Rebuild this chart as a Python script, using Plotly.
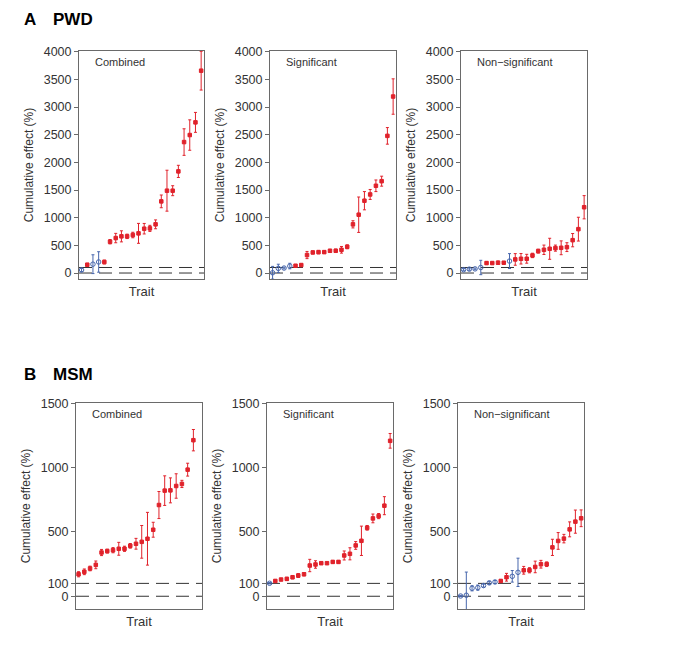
import plotly.graph_objects as go

# ---------------- data ----------------
trait_labels = "Trait"
panel_titles = ["Combined", "Significant", "Non\u2212significant"]
row_titles = [("A", "PWD"), ("B", "MSM")]
ref_lines = [0, 100]

# Panel A (PWD)
pwd_comb_vals = [55, 150, 160, 200, 199, 566, 632, 663, 663, 687, 717, 801, 807, 880, 1295, 1488, 1488, 1837, 2367, 2494, 2723, 3657]
pwd_comb_errs = [30, 25, 170, 185, 35, 40, 85, 100, 40, 50, 180, 95, 55, 80, 115, 370, 90, 110, 240, 275, 180, 350]
pwd_comb_sig = "brbbrrrrrrrrrrrrrrrrrr"

pwd_sig_vals = [5, 84, 90, 126, 132, 144, 325, 372, 378, 378, 402, 402, 420, 474, 880, 1054, 1307, 1420, 1577, 1660, 2479, 3190]
pwd_sig_errs = [115, 75, 15, 50, 20, 20, 65, 25, 30, 25, 25, 30, 60, 35, 65, 320, 165, 90, 105, 90, 150, 320]
pwd_sig_sig = "bbbbrrrrrrrrrrrrrrrrrr"

pwd_ns_vals = [60, 70, 75, 100, 180, 180, 186, 186, 216, 246, 258, 258, 318, 396, 420, 438, 450, 456, 468, 594, 793, 1189]
pwd_ns_errs = [20, 20, 15, 130, 25, 20, 30, 20, 135, 105, 95, 80, 40, 35, 85, 190, 55, 125, 80, 120, 215, 210]
pwd_ns_sig = "bbbbrrrrbrrrrrrrrrrrrr"

# Panel B (MSM)
msm_comb_vals = [171, 190, 216, 244, 340, 351, 358, 369, 369, 392, 408, 423, 447, 517, 709, 821, 823, 857, 873, 984, 1213]
msm_comb_errs = [20, 22, 18, 30, 24, 15, 20, 50, 20, 18, 42, 127, 205, 58, 105, 115, 97, 95, 28, 50, 83]
msm_comb_sig = "rrrrrrrrrrrrrrrrrrrrr"

msm_sig_vals = [101, 119, 130, 135, 148, 161, 171, 239, 247, 257, 257, 267, 267, 317, 330, 395, 431, 532, 605, 623, 704, 1208]
msm_sig_errs = [5, 8, 8, 12, 12, 15, 12, 48, 29, 10, 8, 10, 10, 35, 47, 30, 114, 18, 34, 20, 70, 57]
msm_sig_sig = "brrrrrrrrrrrrrrrrrrrrr"

msm_ns_vals = [2, 8, 62, 67, 83, 104, 111, 119, 148, 155, 186, 202, 202, 228, 249, 249, 380, 430, 448, 520, 580, 606]
msm_ns_errs = [5, 180, 20, 20, 12, 12, 12, 10, 30, 45, 110, 30, 20, 45, 30, 18, 63, 65, 33, 58, 90, 65]
msm_ns_sig = "bbbbbbbrrbbrrrrrrrrrrr"

pwd_ticks = [0, 500, 1000, 1500, 2000, 2500, 3000, 3500, 4000]
msm_ticks = [0, 100, 500, 1000, 1500]
pwd_range = [-108, 4013]
msm_range = [-99, 1502]
x_range = [0.55, 22.5]

panels = [
    (pwd_comb_vals, pwd_comb_errs, pwd_comb_sig),
    (pwd_sig_vals, pwd_sig_errs, pwd_sig_sig),
    (pwd_ns_vals, pwd_ns_errs, pwd_ns_sig),
    (msm_comb_vals, msm_comb_errs, msm_comb_sig),
    (msm_sig_vals, msm_sig_errs, msm_sig_sig),
    (msm_ns_vals, msm_ns_errs, msm_ns_sig),
]

# ---------------- layout geometry (pixels) ----------------
W, H = 685, 649
xdom_px = [(79, 204), (270, 396), (461, 587), (76, 202), (267, 393), (458, 584)]
ydom_px = [(51, 279)] * 3 + [(403, 609)] * 3

RED = "#e0222b"
BLUE = "#4867ad"
AXC = "#6a6a6a"
TXT = "#333333"
FONT = "Liberation Sans, Arial, sans-serif"


def sfx(n):
    return "" if n == 1 else str(n)


fig = go.Figure()
layout = dict(
    width=W, height=H, margin=dict(l=0, r=0, t=0, b=0),
    paper_bgcolor="white", plot_bgcolor="white", showlegend=False,
    font=dict(family=FONT, color=TXT, size=12),
    template="none",
)
annotations = []
shapes = []

for i, (vals, errs, sig) in enumerate(panels):
    n = i + 1
    s = sfx(n)
    xs = list(range(1, len(vals) + 1))
    for flag, col, sym, msize in (("b", BLUE, "circle-open", 4.5), ("r", RED, "square", 3.5)):
        idx = [k for k in range(len(vals)) if sig[k] == flag]
        if not idx:
            continue
        fig.add_trace(go.Scatter(
            x=[xs[k] for k in idx], y=[vals[k] for k in idx],
            mode="markers",
            marker=dict(color=col, symbol=sym, size=msize, line=dict(color=col, width=1)),
            error_y=dict(type="data", array=[errs[k] for k in idx], visible=True,
                         color=col, thickness=1, width=1.5),
            xaxis=f"x{s}", yaxis=f"y{s}", hoverinfo="skip",
        ))
    x0, x1 = xdom_px[i]
    y0, y1 = ydom_px[i]
    xd = [x0 / W, x1 / W]
    yd = [1 - y1 / H, 1 - y0 / H]
    is_pwd = i < 3
    rng = pwd_range if is_pwd else msm_range
    tv = pwd_ticks if is_pwd else msm_ticks
    layout[f"xaxis{s}"] = dict(
        domain=xd, anchor=f"y{s}", range=x_range, showgrid=False, zeroline=False,
        showticklabels=False, ticks="", showline=True, mirror=True,
        linecolor=AXC, linewidth=1,
        title=dict(text=trait_labels, font=dict(size=13, family=FONT, color=TXT), standoff=7),
        automargin=False,
    )
    layout[f"yaxis{s}"] = dict(
        domain=yd, anchor=f"x{s}", range=rng, showgrid=False, zeroline=False,
        tickmode="array", tickvals=tv, ticktext=[str(t) for t in tv],
        ticks="outside", ticklen=4, tickcolor=AXC, tickwidth=1,
        tickfont=dict(size=12.5, family=FONT, color=TXT),
        showline=True, mirror=True, linecolor=AXC, linewidth=1,
        title=dict(text="Cumulative effect (%)", font=dict(size=12, family=FONT, color=TXT), standoff=7),
        automargin=False,
    )
    # right-side inward ticks
    layout[f"yaxis{n + 6}"] = dict(
        overlaying=f"y{s}", anchor=f"x{s}", side="right", range=rng,
        showgrid=False, zeroline=False, showline=False,
        tickmode="array", tickvals=tv,
        showticklabels=False, ticks="inside", ticklen=4, tickcolor=AXC, tickwidth=1,
        automargin=False,
    )
    for rv in ref_lines:
        shapes.append(dict(
            type="line", xref=f"x{s} domain", yref=f"y{s}", x0=0, x1=1, y0=rv, y1=rv,
            line=dict(color=TXT, width=1, dash="13px,7px"), layer="below",
        ))
    annotations.append(dict(
        text=panel_titles[i % 3], xref=f"x{s} domain", yref=f"y{s} domain",
        x=0.11, y=1, xanchor="left", yanchor="top", yshift=-3, showarrow=False,
        font=dict(size=11, family=FONT, color=TXT),
    ))

# row labels
for r, (letter, name) in enumerate(row_titles):
    ypx = 20 if r == 0 else 374
    annotations.append(dict(text=f"<b>{letter}</b>", xref="paper", yref="paper",
                            x=22 / W, y=1 - ypx / H, xanchor="left", yanchor="middle",
                            showarrow=False, font=dict(size=17, family=FONT, color="black")))
    annotations.append(dict(text=f"<b>{name}</b>", xref="paper", yref="paper",
                            x=51 / W, y=1 - ypx / H, xanchor="left", yanchor="middle",
                            showarrow=False, font=dict(size=17, family=FONT, color="black")))

layout["annotations"] = annotations
layout["shapes"] = shapes
fig.update_layout(**layout)
fig.write_html(
    "out.html",
    config={"displayModeBar": False},
    post_script="document.body.style.margin='0';document.body.style.padding='0';",
)
